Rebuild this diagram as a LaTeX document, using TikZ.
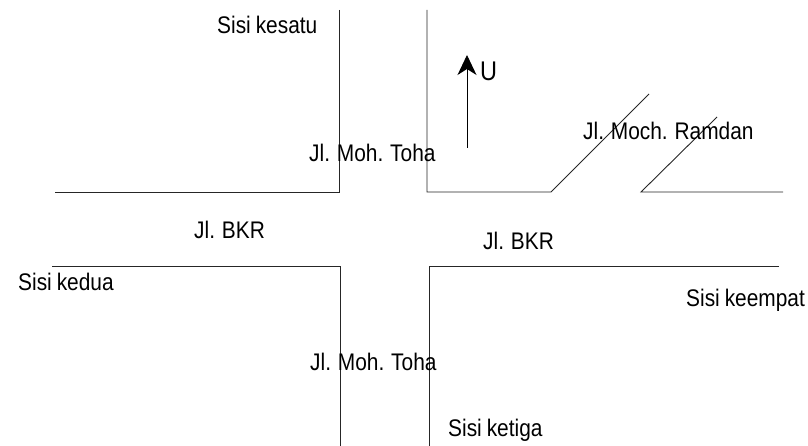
\documentclass[tikz,border=0pt]{standalone}
\usepackage{fontspec}
\setmainfont{Liberation Sans}[FakeStretch=0.87,WordSpace=0.85]
\usetikzlibrary{arrows.meta}
\begin{document}
\begin{tikzpicture}[x=1pt,y=-1pt,
  road/.style={draw=black!85,line width=0.9pt},
  lbl/.style={inner sep=0pt,anchor=west,font=\fontsize{24}{28}\selectfont}]
\useasboundingbox (0,0) rectangle (808,446);
% corners
\coordinate (a1) at (339,10);
\coordinate (a2) at (339,192);
\coordinate (a3) at (55,192);
\coordinate (b1) at (427,10);
\coordinate (b2) at (427,192);
\coordinate (b3) at (551,192);
\coordinate (b4) at (649,94);
\coordinate (c1) at (717,117);
\coordinate (c2) at (641,192);
\coordinate (c3) at (783,192);
\coordinate (d1) at (52,266);
\coordinate (d2) at (340,266);
\coordinate (d3) at (340,446);
\coordinate (e1) at (779,266);
\coordinate (e2) at (429,266);
\coordinate (e3) at (429,446);
\coordinate (n0) at (467,148);
\coordinate (n1) at (467,55);
\draw[road] (a1) -- (a2) -- (a3);
\draw[road] (b1) -- (b2) -- (b3) -- (b4);
\draw[road] (c1) -- (c2) -- (c3);
\draw[road] (d1) -- (d2) -- (d3);
\draw[road] (e1) -- (e2) -- (e3);
\draw[line width=0.9pt,-{Stealth[length=20pt,width=19pt,inset=6pt]}] (n0) -- (n1);
\node[lbl,font=\fontsize{27}{30}\selectfont] (u) at (480,71) {U};
\node[lbl] (s1) at (217,25) {Sisi kesatu};
\node[lbl] (t1) at (309,153) {Jl. Moh. Toha};
\node[lbl] (r) at (583,131) {Jl. Moch. Ramdan};
\node[lbl] (k1) at (194,230) {Jl. BKR};
\node[lbl] (k2) at (483,241) {Jl. BKR};
\node[lbl] (s2) at (18,282) {Sisi kedua};
\node[lbl] (s4) at (686,300) {Sisi keempat};
\node[lbl] (t2) at (310,362) {Jl. Moh. Toha};
\node[lbl] (s3) at (448,430) {Sisi ketiga};
\end{tikzpicture}
\end{document}
